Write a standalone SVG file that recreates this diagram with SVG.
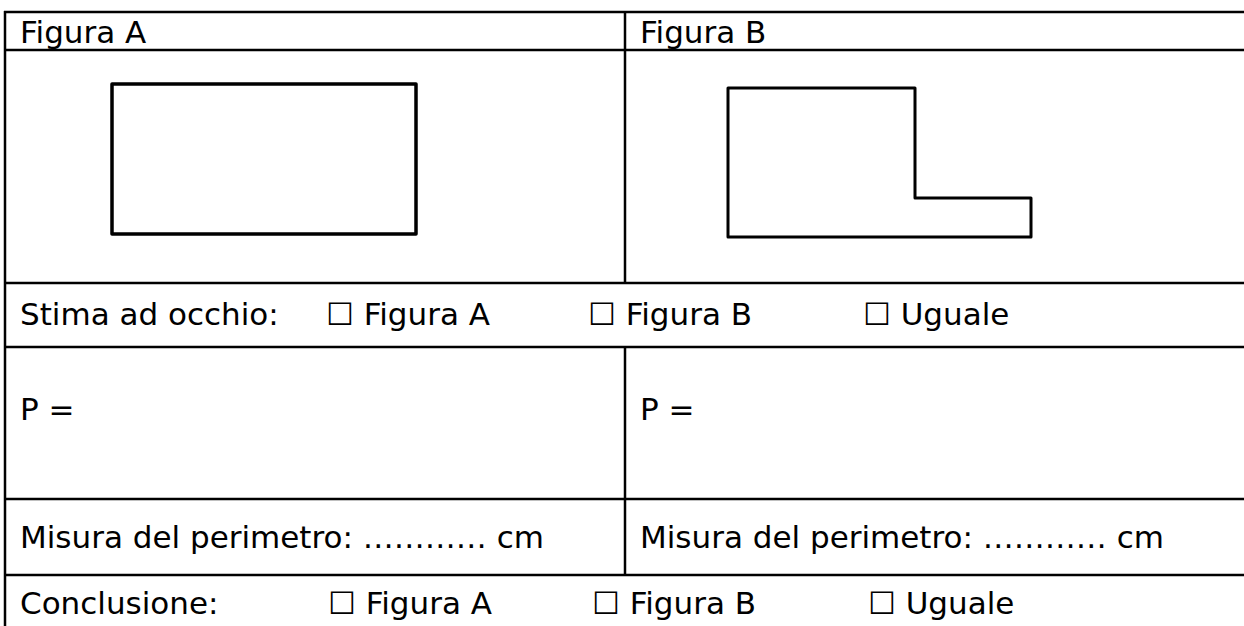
<svg xmlns="http://www.w3.org/2000/svg" width="1244" height="626" viewBox="0 0 1244 626">
<style>
.t{font-family:"DejaVu Sans","Liberation Sans",sans-serif;font-size:31px;fill:#000}
.grid{stroke:#000;stroke-width:2.5;fill:none}
.fig{stroke:#000;fill:none;stroke-linejoin:round}
</style>
<rect width="1244" height="626" fill="#fff"/>
<g id="table" class="grid">
<line x1="4" y1="12" x2="1244" y2="12"/>
<line x1="5" y1="11" x2="5" y2="626"/>
<line x1="4" y1="50" x2="1244" y2="50"/>
<line x1="4" y1="283" x2="1244" y2="283"/>
<line x1="4" y1="347" x2="1244" y2="347"/>
<line x1="4" y1="499" x2="1244" y2="499"/>
<line x1="4" y1="575" x2="1244" y2="575"/>
<line x1="625" y1="11" x2="625" y2="283"/>
<line x1="625" y1="347" x2="625" y2="575"/>
</g>
<g id="header">
<text class="t" x="20" y="43">Figura A</text>
<text class="t" x="640" y="43">Figura B</text>
</g>
<g id="figA">
<rect class="fig" x="112" y="84" width="304" height="150" stroke-width="3.5"/>
</g>
<g id="figB">
<path class="fig" d="M728 88 H915 V198 H1031 V237 H728 Z" stroke-width="3"/>
</g>
<g id="stima">
<text class="t" x="20" y="325">Stima ad occhio:</text>
<text class="t" x="326" y="325">☐ Figura A</text>
<text class="t" x="588" y="325">☐ Figura B</text>
<text class="t" x="863" y="325">☐ Uguale</text>
</g>
<g id="pA"><text class="t" x="20" y="420">P =</text></g>
<g id="pB"><text class="t" x="640" y="420">P =</text></g>
<g id="misuraA"><text class="t" x="20" y="548">Misura del perimetro: ………… cm</text></g>
<g id="misuraB"><text class="t" x="640" y="548">Misura del perimetro: ………… cm</text></g>
<g id="conclusione">
<text class="t" x="20" y="614">Conclusione:</text>
<text class="t" x="328" y="614">☐ Figura A</text>
<text class="t" x="592" y="614">☐ Figura B</text>
<text class="t" x="868" y="614">☐ Uguale</text>
</g>
</svg>
